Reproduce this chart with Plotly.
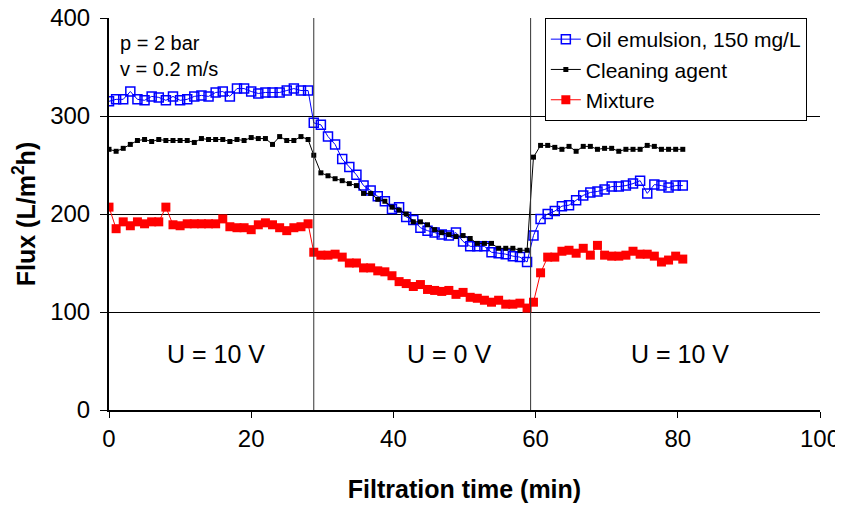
import plotly.graph_objects as go

# Filtration time (min), shared by all series
time = [0, 1, 2, 3, 4, 5, 6, 7, 8, 9, 10, 11, 12, 13, 14, 15, 16, 17, 18, 19, 20, 21, 22, 23, 24, 25, 26, 27, 28,
        28.8, 29.8, 30.8, 31.8, 32.8, 33.8, 34.8, 35.8, 36.8, 37.8, 38.8, 39.8, 40.8, 41.8, 42.8, 43.8, 44.8,
        45.8, 46.8, 47.8, 48.8, 49.8, 50.8, 51.8, 52.8, 53.8, 54.8, 55.8, 56.8, 57.8, 58.8,
        59.7, 60.7, 61.7, 62.7, 63.7, 64.7, 65.7, 66.7, 67.7, 68.7, 69.7, 70.7, 71.7, 72.7, 73.7, 74.7,
        75.7, 76.7, 77.7, 78.7, 79.7, 80.7]

oil_emulsion = [315, 317, 317, 325, 317, 316, 320, 319, 316, 320, 316, 317, 320, 321, 320, 324, 325, 320, 328, 328,
                325, 323, 324, 324, 324, 326, 328, 326, 326,
                293, 291, 279, 271, 256, 248, 240, 229, 224, 218, 213, 205, 207, 197, 194, 186, 183, 181, 179,
                178, 181, 172, 167, 167, 167, 161, 160, 159, 157, 156, 151,
                178, 195, 200, 203, 208, 209, 214, 219, 222, 223, 225, 228, 228, 229, 231, 234, 221, 230, 229,
                227, 229, 229]

cleaning_agent = [266, 264, 267, 271, 275, 276, 274, 276, 275, 275, 275, 275, 273, 277, 276, 276, 276, 274, 276, 275,
                  278, 277, 277, 271, 279, 275, 275, 279, 276,
                  260, 242, 239, 236, 234, 231, 229, 221, 221, 215, 213, 207, 204, 200, 192, 192, 189, 184, 181,
                  179, 177, 178, 175, 170, 170, 170, 165, 165, 165, 163, 163,
                  258, 270, 270, 268, 266, 269, 264, 269, 269, 266, 267, 267, 264, 266, 266, 266, 270, 269, 266,
                  266, 266, 266]

mixture = [207, 185, 192, 188, 192, 190, 192, 192, 207, 189, 188, 190, 190, 190, 190, 190, 195, 187, 186, 186,
           184, 189, 191, 189, 186, 183, 186, 187, 190,
           161, 158, 158, 159, 156, 150, 150, 145, 145, 142, 141, 137, 131, 129, 126, 128, 123, 122, 121,
           122, 118, 120, 115, 114, 112, 110, 112, 108, 108, 109, 104,
           110, 140, 156, 156, 162, 163, 160, 165, 158, 168, 158, 157, 157, 158, 162, 159, 159, 157, 151,
           153, 157, 154]

x_ticks = [0, 20, 40, 60, 80, 100]
y_ticks = [0, 100, 200, 300, 400]
stage_bounds = [28.8, 59.3]
stage_labels = ["U = 10 V", "U = 0 V", "U = 10 V"]
stage_label_x = [15, 47.8, 80.3]

FONT = "Arial, Liberation Sans, sans-serif"

fig = go.Figure()
fig.add_trace(go.Scatter(
    x=time, y=oil_emulsion, name="Oil emulsion, 150 mg/L", mode="lines+markers",
    line=dict(color="#0000FF", width=1),
    marker=dict(symbol="square-open", size=9, color="#0000FF", line=dict(width=1.5)),
))
fig.add_trace(go.Scatter(
    x=time, y=cleaning_agent, name="Cleaning agent", mode="lines+markers",
    line=dict(color="#000000", width=1),
    marker=dict(symbol="square", size=5, color="#000000"),
))
fig.add_trace(go.Scatter(
    x=time, y=mixture, name="Mixture", mode="lines+markers",
    line=dict(color="#FF0000", width=1),
    marker=dict(symbol="square", size=9, color="#FF0000"),
))

for xb in stage_bounds:
    fig.add_shape(type="line", x0=xb, x1=xb, y0=0, y1=400, xref="x", yref="y",
                  line=dict(color="#333333", width=1))

for lx, lt in zip(stage_label_x, stage_labels):
    fig.add_annotation(x=lx, y=57, xref="x", yref="y", text=lt, showarrow=False,
                       font=dict(size=25, color="black", family=FONT))

fig.add_annotation(x=0.012, y=0.97, xref="paper", yref="paper", xanchor="left", yanchor="top",
                   text="p = 2 bar<br>v = 0.2 m/s", showarrow=False, align="left",
                   font=dict(size=20, color="black", family=FONT))

fig.update_layout(
    width=835, height=498,
    margin=dict(l=101, r=23, t=10, b=96, autoexpand=False),
    paper_bgcolor="white", plot_bgcolor="white",
    font=dict(family=FONT, color="black", size=22),
    showlegend=True,
    legend=dict(x=0.613, y=1.0, xanchor="left", yanchor="top",
                bgcolor="white", bordercolor="black", borderwidth=1,
                font=dict(size=21, family=FONT, color="black")),
    xaxis=dict(range=[0, 100], tickvals=x_ticks, ticks="outside", ticklen=6, tickcolor="black",
               showline=True, linecolor="black", linewidth=2, showgrid=False, zeroline=False,
               tickfont=dict(size=24), automargin=False, ticklabeloverflow="allow",
               title=dict(text="<b>Filtration time (min)</b>", font=dict(size=25), standoff=30)),
    xaxis2=dict(range=[0, 100], tickvals=x_ticks, ticks="inside", ticklen=6, tickcolor="black",
                overlaying="x", anchor="y", side="bottom", showticklabels=False,
                showline=False, showgrid=False, zeroline=False, automargin=False),
    yaxis=dict(range=[0, 400], tickvals=y_ticks, ticks="outside", ticklen=7, tickcolor="black",
               showline=True, linecolor="black", linewidth=2, showgrid=True, gridcolor="black",
               gridwidth=1, zeroline=False, tickfont=dict(size=24), automargin=False,
               ticklabelstandoff=5, ticklabeloverflow="allow",
               title=dict(text="<b>Flux (L/m<sup>2</sup>h)</b>", font=dict(size=25), standoff=12)),
)

fig.write_html("out.html")
